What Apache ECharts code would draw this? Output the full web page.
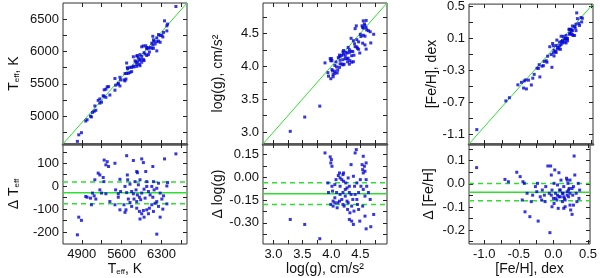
<!DOCTYPE html>
<html><head><meta charset="utf-8">
<script src="https://cdn.jsdelivr.net/npm/echarts@6/dist/echarts.min.js"></script>
<style>html,body{margin:0;padding:0;background:#fff}#c{width:600px;height:278px}</style>
</head><body><div id="c"></div>
<script>
// ---------- DATA ----------
// [reference value, difference]  (top panel y = x + difference)
const teffPoints = [
[5294,114],[5347,107],[5324,93],[5371,86],[5483,100],[5689,133],[5807,112],[5954,119],[5983,103],
[5866,64],[6025,64],[6149,86],[6355,119],[6555,141],[5188,57],[5218,49],[5701,49],[5878,59],
[5277,38],[5289,20],[5571,30],[5707,28],[5836,20],[5924,28],[6042,20],[6160,20],[6249,13],
[6408,16],[6396,1],[5895,6],[5748,9],[5130,28],
[4994,-48],[5088,-30],[5118,-42],[5247,-30],[5324,-33],[5394,-67],[5542,-33],[5583,-23],[5689,-28],
[5777,-23],[5807,-33],[5854,-16],[5878,-38],[5913,-48],[5954,-30],[5995,-13],[6072,-23],[6101,-38],
[6172,-16],[6219,-9],[6278,-30],[6337,-42],[6131,-1],[6042,-1],[5660,-1],[5495,-16],[5218,-16],
[5147,-56],[5070,-81],[5542,-48],[5719,-56],[5818,-56],[5936,-59],[6013,-52],[6149,-48],[6219,-67],
[6308,-56],[5642,-81],[5677,-103],[5777,-88],[5866,-96],[5913,-110],[5954,-120],[5995,-135],
[5924,-143],[5983,-106],[6042,-103],[6089,-96],[6131,-81],[6190,-74],[6249,-88],[6325,-100],
[6278,-135],[6219,-209],[5660,-114],[5571,-103],[5483,-81],[5866,-67],[5748,-71],[6396,-77],
[6160,-110],[6072,-120],[4847,-135],[4894,-149],[4823,-212],[4970,-45],[5053,-52]
];
const loggPoints = [
[3.29,-0.278],[3.54,-0.311],[3.80,-0.405],[3.89,0.161],[3.98,0.135],[4.00,0.117],[3.99,0.095],
[4.01,0.073],[3.94,-0.037],[3.95,-0.100],[4.02,-0.091],[4.03,-0.157],[3.99,-0.179],[4.03,-0.190],
[4.06,-0.135],[4.09,-0.100],[4.08,-0.015],[4.12,0.012],[4.15,-0.004],[4.20,0.018],[4.18,-0.015],
[4.21,-0.026],[4.15,-0.059],[4.11,-0.168],[4.14,-0.157],[4.18,-0.146],[4.20,-0.179],[4.22,-0.190],
[4.24,-0.124],[4.27,-0.070],[4.25,-0.037],[4.29,-0.004],[4.31,-0.059],[4.28,-0.212],[4.32,-0.234],
[4.31,-0.278],[4.35,-0.289],[4.38,-0.311],[4.41,0.161],[4.43,0.183],[4.34,0.084],[4.38,0.007],
[4.40,-0.059],[4.41,-0.113],[4.44,-0.146],[4.45,-0.179],[4.47,-0.212],[4.37,-0.146],[4.34,-0.113],
[4.49,-0.289],[4.50,-0.015],[4.53,0.084],[4.54,0.051],[4.55,0.139],[4.57,0.073],[4.58,0.040],
[4.60,0.095],[4.55,-0.080],[4.58,-0.124],[4.54,-0.190],[4.58,-0.256],[4.60,-0.340],[4.68,-0.326],
[4.73,-0.245],[4.67,-0.146],[4.64,-0.100],[4.61,-0.059],[4.60,-0.015],[4.55,0.029],[4.51,-0.059],
[4.44,-0.037],[4.06,-0.048],[4.10,-0.201],[4.15,-0.113],[4.20,-0.100],[4.24,-0.080],[4.29,-0.168],
[4.35,-0.190],[4.39,-0.223],[4.06,-0.168],[4.01,-0.059],[4.31,-0.100],[4.27,-0.157],[4.21,0.029],
[4.14,0.029],[4.47,-0.100]
];
const fehPoints = [
[-1.11,0.070],[-0.70,0.019],[-0.65,0.009],[-0.53,0.050],[-0.48,0.031],[-0.44,0.009],[-0.42,0.002],
[-0.45,-0.070],[-0.41,-0.121],[-0.34,-0.142],[-0.32,-0.077],[-0.30,-0.049],[-0.26,-0.012],
[-0.24,-0.034],[-0.22,-0.161],[-0.19,-0.056],[-0.17,-0.070],[-0.16,-0.027],[-0.13,-0.049],
[-0.11,-0.012],[-0.08,0.077],[-0.04,0.077],[-0.05,-0.211],[-0.03,0.038],[-0.02,-0.027],[0.00,-0.063],
[0.02,0.060],[0.01,0.002],[0.03,-0.041],[0.05,-0.070],[0.06,-0.005],[0.07,-0.106],[0.08,0.048],
[0.09,-0.027],[0.10,-0.056],[0.11,0.016],[0.13,-0.077],[0.14,-0.041],[0.15,-0.012],[0.16,-0.063],
[0.17,-0.099],[0.19,0.024],[0.20,-0.034],[0.21,0.002],[0.22,-0.056],[0.23,-0.020],[0.24,-0.092],
[0.25,-0.113],[0.27,-0.132],[0.28,-0.049],[0.29,-0.012],[0.30,0.120],[0.31,0.038],[0.33,-0.041],
[0.34,-0.077],[0.36,0.002],[0.37,-0.063],[0.38,-0.027],[-0.12,-0.077],[-0.06,-0.041],[-0.03,-0.049],
[0.03,-0.063],[0.06,-0.049],[0.08,-0.056],[0.10,-0.027],[0.13,-0.041],[0.15,-0.056],[0.17,-0.070],
[0.20,-0.049],[0.22,-0.027],[0.24,-0.041],[0.20,0.016],[0.24,0.016],[0.27,-0.020],[-0.02,-0.099],
[0.01,-0.085],[0.15,-0.106],[0.29,-0.092],[-0.23,0.002],[-0.38,-0.041]
];
// mean offset and scatter of the differences
const meanDiff = [-29, -0.108, -0.036];
const sigmaDiff = [47, 0.072, 0.037];

// axis ranges
const teffRange = [4570, 6750];
const teffDiffRange = [-252, 184];
const loggRange = [2.82, 4.96];
const loggDiffRange = [-0.44, 0.22];
const fehRange = [-1.22, 0.53];
const fehDiffRange = [-0.26, 0.172];

// tick values
const teffXMajor = [4900, 5600, 6300], teffXMinor = [5250, 5950, 6650];
const teffYMajor = [5000, 5500, 6000, 6500], teffYMinor = [4750, 5250, 5750, 6250];
const teffDMajor = [100, 0, -100, -200], teffDMinor = [150, 50, -50, -150];
const loggXMajor = [3.0, 3.5, 4.0, 4.5], loggXMinor = [3.25, 3.75, 4.25, 4.75];
const loggDMajor = [0.15, 0, -0.15, -0.30], loggDMinor = [0.075, -0.075, -0.225, -0.375];
const fehXMajor = [-1.0, -0.5, 0.0, 0.5], fehXMinor = [-0.75, -0.25, 0.25];
const fehYMajor = [-1.1, -0.7, -0.3, 0.1, 0.5], fehYMinor = [-0.9, -0.5, -0.1, 0.3];
const fehDMajor = [0.1, 0, -0.1, -0.2], fehDMinor = [0.15, 0.05, -0.05, -0.15, -0.25];

// ---------- STYLE ----------
const FONT = 'Liberation Sans';
const BLUE = '#0505d8';
const GREEN = '#2ee02e';
const cols = [63, 263, 469];
const colW = 124;
const topT = 3, topH = 141, botT = 144, botH = 100;

const rich = {
  a: {fontFamily: FONT, fontSize: 14, color: '#111'},
  s: {fontFamily: FONT, fontSize: 8, color: '#111', verticalAlign: 'bottom', padding: [6, 0, 0, 0]}
};

const grids = [];
for (let r = 0; r < 2; r++) for (let c = 0; c < 3; c++) {
  grids.push({left: cols[c], width: colW, top: r ? botT : topT, height: r ? botH : topH,
    show: true, borderColor: '#333', borderWidth: 1, backgroundColor: 'transparent', containLabel: false});
}

function ax(gridIndex, position, range, major, minor, fmt, showLabel, name, nameGap, extraLine) {
  const o = {
    type: 'value', gridIndex, position, min: range[0], max: range[1], scale: true,
    splitLine: {show: false},
    axisLine: extraLine ? {show: true, onZero: false, lineStyle: extraLine} : {show: false, onZero: false},
    axisTick: {show: true, inside: true, length: 4, customValues: major.concat(minor),
      lineStyle: {color: '#222', width: 1}},
    axisLabel: {show: showLabel, customValues: major, formatter: fmt, margin: 4,
      fontFamily: FONT, fontSize: 13, color: '#111'},
    minorTick: {show: false}
  };
  if (name) {
    o.name = name; o.nameLocation = 'middle'; o.nameGap = nameGap;
    o.nameTextStyle = {fontFamily: FONT, fontSize: 14, color: '#111', rich};
    if (position === 'left') o.nameRotate = 90;
  }
  return o;
}

const fInt = v => String(Math.round(v));
const f1 = v => v.toFixed(1);
const f2 = v => v.toFixed(2);
const divider = {color: '#555', width: 2.5};

const xRanges = [teffRange, loggRange, fehRange];
const xMaj = [teffXMajor, loggXMajor, fehXMajor];
const xMin = [teffXMinor, loggXMinor, fehXMinor];
const xFmt = [fInt, f1, f1];
const yTopRanges = [teffRange, loggRange, fehRange];
const yTopMaj = [teffYMajor, loggXMajor, fehYMajor];
const yTopMin = [teffYMinor, loggXMinor, fehYMinor];
const yTopFmt = [fInt, f1, f1];
const yBotRanges = [teffDiffRange, loggDiffRange, fehDiffRange];
const yBotMaj = [teffDMajor, loggDMajor, fehDMajor];
const yBotMin = [teffDMinor, loggDMinor, fehDMinor];
const yBotFmt = [fInt, f2, f1];
const xNames = ['{a|T}{s|eff}{a|, K}', '{a|log(g), cm/s²}', '{a|[Fe/H], dex}'];
const yTopNames = ['{a|T}{s|eff}{a|, K}', '{a|log(g), cm/s²}', '{a|[Fe/H], dex}'];
const yBotNames = ['{a|Δ T}{s|eff}', '{a|Δ log(g)}', '{a|Δ [Fe/H]}'];
const yTopGap = [42, 38, 24];
const yBotGap = [42, 38, 33];
const pointSets = [teffPoints, loggPoints, fehPoints];

const xAxes = [], yAxes = [], series = [];
for (let c = 0; c < 3; c++) {
  xAxes[2 * c] = ax(c, 'bottom', xRanges[c], xMaj[c], xMin[c], xFmt[c], false, null, 0, divider);
  xAxes[2 * c + 1] = ax(c, 'top', xRanges[c], xMaj[c], xMin[c], xFmt[c], false);
  yAxes[2 * c] = ax(c, 'left', yTopRanges[c], yTopMaj[c], yTopMin[c], yTopFmt[c], true, yTopNames[c], yTopGap[c]);
  yAxes[2 * c + 1] = ax(c, 'right', yTopRanges[c], yTopMaj[c], yTopMin[c], yTopFmt[c], false);
  const g = 3 + c;
  xAxes[2 * g] = ax(g, 'bottom', xRanges[c], xMaj[c], xMin[c], xFmt[c], true, xNames[c], 15);
  xAxes[2 * g + 1] = ax(g, 'top', xRanges[c], xMaj[c], xMin[c], xFmt[c], false);
  yAxes[2 * g] = ax(g, 'left', yBotRanges[c], yBotMaj[c], yBotMin[c], yBotFmt[c], true, yBotNames[c], yBotGap[c]);
  yAxes[2 * g + 1] = ax(g, 'right', yBotRanges[c], yBotMaj[c], yBotMin[c], yBotFmt[c], false);

  const pts = pointSets[c];
  const rng = xRanges[c];
  series.push({type: 'line', xAxisIndex: 2 * c, yAxisIndex: 2 * c, data: [[rng[0], rng[0]], [rng[1], rng[1]]],
    symbol: 'none', lineStyle: {color: GREEN, width: 1}, silent: true, z: 1, clip: true});
  series.push({type: 'scatter', xAxisIndex: 2 * c, yAxisIndex: 2 * c,
    data: pts.map(p => [p[0], p[0] + p[1]]), symbol: 'rect', symbolSize: 3,
    itemStyle: {color: BLUE}, z: 3, clip: true});
  const m = meanDiff[c], s = sigmaDiff[c];
  series.push({type: 'line', xAxisIndex: 2 * g, yAxisIndex: 2 * g, data: [[rng[0], m], [rng[1], m]],
    symbol: 'none', lineStyle: {color: GREEN, width: 1.5}, z: 1});
  [m + s, m - s].forEach(v => series.push({type: 'line', xAxisIndex: 2 * g, yAxisIndex: 2 * g,
    data: [[rng[0], v], [rng[1], v]], symbol: 'none', lineStyle: {color: GREEN, width: 1.5, type: [5, 4]}, z: 1}));
  series.push({type: 'scatter', xAxisIndex: 2 * g, yAxisIndex: 2 * g,
    data: pts.map(p => [p[0], p[1]]), symbol: 'rect', symbolSize: 3,
    itemStyle: {color: BLUE}, z: 3, clip: true});
}

const chart = echarts.init(document.getElementById('c'), null, {renderer: 'canvas'});
chart.setOption({
  animation: false,
  backgroundColor: '#fff',
  grid: grids,
  xAxis: xAxes,
  yAxis: yAxes,
  series
});
</script></body></html>
